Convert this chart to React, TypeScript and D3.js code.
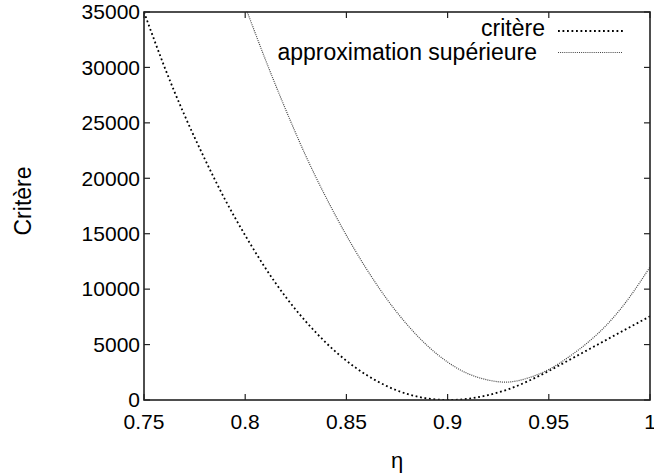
import React, { useEffect, useRef } from 'react';
import * as d3 from 'd3';

// eta values (0.75 .. 1.00, step 0.01)
const etaCritere = [0.75, 0.76, 0.77, 0.78, 0.79, 0.8, 0.81, 0.82, 0.83, 0.84, 0.85, 0.86, 0.87,
  0.88, 0.89, 0.9, 0.91, 0.92, 0.93, 0.94, 0.95, 0.96, 0.97, 0.98, 0.99, 1.0];
const critere = [35000, 30100, 25700, 21750, 18100, 14850, 11900, 9300, 7070, 5150, 3540, 2250, 1250,
  550, 140, 0, 110, 440, 970, 1720, 2620, 3600, 4590, 5580, 6570, 7550];

const etaApprox = [0.8, 0.81, 0.82, 0.83, 0.84, 0.85, 0.86, 0.87, 0.88, 0.89, 0.9, 0.91, 0.92,
  0.93, 0.94, 0.95, 0.96, 0.97, 0.98, 0.99, 1.0];
const approx = [35500, 30700, 26200, 22000, 18250, 14850, 11800, 9100, 6800, 4900, 3420, 2380, 1800,
  1620, 2000, 2750, 3900, 5300, 7050, 9300, 12000];

const xTicks = [0.75, 0.8, 0.85, 0.9, 0.95, 1];
const xTickLabels = ['0.75', '0.8', '0.85', '0.9', '0.95', '1'];
const yTicks = [0, 5000, 10000, 15000, 20000, 25000, 30000, 35000];

const W = 654;
const H = 473;
const FONT = '"Liberation Sans", Arial, Helvetica, sans-serif';

function Chart() {
  const svgRef = useRef<SVGSVGElement>(null);

  useEffect(() => {
    const left = 144, right = 650, top = 12, bottom = 400;
    const svg = d3.select(svgRef.current);
    svg.selectAll('*').remove();

    const x = d3.scaleLinear().domain([0.75, 1]).range([left, right]);
    const y = d3.scaleLinear().domain([0, 35000]).range([bottom, top]);

    svg.append('defs').append('clipPath').attr('id', 'plotclip')
      .append('rect').attr('x', left).attr('y', top - 1)
      .attr('width', right - left).attr('height', bottom - top + 1);

    // ticks (inward, mirrored)
    const tickLen = 6;
    const g = svg.append('g').attr('stroke', '#222').attr('stroke-width', 1.2);
    xTicks.forEach(t => {
      g.append('line').attr('x1', x(t)).attr('x2', x(t)).attr('y1', bottom).attr('y2', bottom - tickLen);
      g.append('line').attr('x1', x(t)).attr('x2', x(t)).attr('y1', top).attr('y2', top + tickLen);
    });
    yTicks.forEach(t => {
      g.append('line').attr('x1', left).attr('x2', left + tickLen).attr('y1', y(t)).attr('y2', y(t));
      g.append('line').attr('x1', right).attr('x2', right - tickLen).attr('y1', y(t)).attr('y2', y(t));
    });

    // tick labels
    svg.append('g').selectAll('text').data(xTicks).join('text')
      .attr('x', d => x(d)).attr('y', bottom + 29)
      .attr('text-anchor', 'middle')
      .attr('font-family', FONT).attr('font-size', 21)
      .text((d, i) => xTickLabels[i]);

    svg.append('g').selectAll('text').data(yTicks).join('text')
      .attr('x', left - 4).attr('y', d => y(d)).attr('dy', '0.35em')
      .attr('text-anchor', 'end')
      .attr('font-family', FONT).attr('font-size', 21)
      .text(d => String(d));

    // axis titles
    svg.append('text').attr('x', (left + right) / 2).attr('y', 468)
      .attr('text-anchor', 'middle').attr('font-family', FONT).attr('font-size', 22)
      .text('η');
    svg.append('text').attr('transform', `translate(31,201) rotate(-90)`)
      .attr('text-anchor', 'middle').attr('font-family', FONT).attr('font-size', 23)
      .text('Critère');

    // curves
    const line = (xs: number[]) => d3.line<number>()
      .x((d, i) => x(xs[i]))
      .y(d => y(d))
      .curve(d3.curveNatural);

    const plot = svg.append('g').attr('clip-path', 'url(#plotclip)');
    plot.append('path').datum(critere)
      .attr('fill', 'none').attr('stroke', '#000').attr('stroke-width', 1.8)
      .attr('stroke-dasharray', '1.8,2.7')
      .attr('d', line(etaCritere));
    plot.append('path').datum(approx)
      .attr('fill', 'none').attr('stroke', '#444').attr('stroke-width', 1.2)
      .attr('stroke-dasharray', '1,1.1')
      .attr('d', line(etaApprox));

    // legend
    svg.append('text').attr('x', 545).attr('y', 36).attr('text-anchor', 'end')
      .attr('font-family', FONT).attr('font-size', 23).text('critère');
    svg.append('text').attr('x', 537).attr('y', 60).attr('text-anchor', 'end')
      .attr('font-family', FONT).attr('font-size', 23).text('approximation supérieure');
    svg.append('line').attr('x1', 558).attr('x2', 623).attr('y1', 31).attr('y2', 31)
      .attr('stroke', '#000').attr('stroke-width', 1.8).attr('stroke-dasharray', '1.8,2.7');
    svg.append('line').attr('x1', 558).attr('x2', 623).attr('y1', 52.5).attr('y2', 52.5)
      .attr('stroke', '#444').attr('stroke-width', 1.2).attr('stroke-dasharray', '1,1.1');

    // border
    svg.append('rect').attr('x', left).attr('y', top)
      .attr('width', right - left).attr('height', bottom - top)
      .attr('fill', 'none').attr('stroke', '#222').attr('stroke-width', 1.6);
  }, []);

  return <svg ref={svgRef} width={W} height={H} style={{ position: 'absolute', left: 0, top: 0, background: '#fff' }} />;
}

export default function App() {
  return <Chart />;
}
